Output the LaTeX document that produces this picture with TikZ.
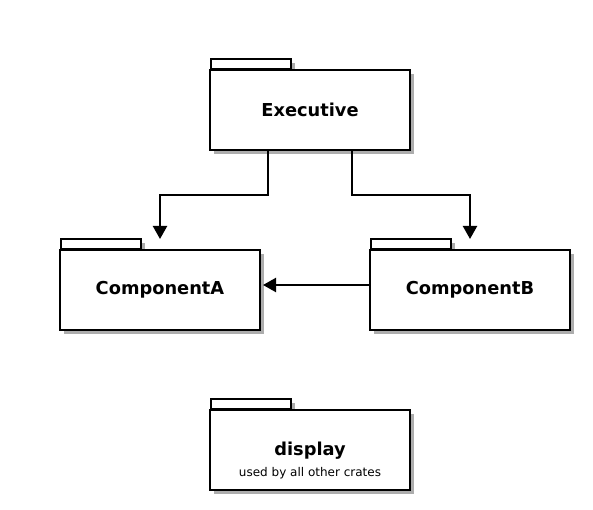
\documentclass[tikz,border=0pt]{standalone}
\usepackage{fontspec}
\setmainfont{DejaVu Sans}
\usetikzlibrary{arrows.meta,shadows}
\tikzset{
  pkgshadow/.style={drop shadow={shadow xshift=4pt,shadow yshift=-4pt,opacity=1,fill=black!32}},
  pkgbody/.style={draw=black,line width=2pt,fill=white,minimum width=200pt,minimum height=80pt,inner sep=0pt,pkgshadow,font=\fontsize{17.8}{21}\selectfont\bfseries},
  pkgtab/.style={draw=black,line width=2pt,fill=white,minimum width=80pt,minimum height=10pt,inner sep=0pt,pkgshadow,anchor=south west},
  arr/.style={line width=2.2pt,-{Triangle[width=14pt,length=13pt]}},
}
\begin{document}
\begin{tikzpicture}[x=1pt,y=-1pt]
\useasboundingbox (0,0) rectangle (593,510);
% Executive
\node[pkgtab] (exectab) at (210,70) {};
\node[pkgbody] (exec) at (310,110) {Executive};
% ComponentA
\node[pkgtab] (atab) at (60,250) {};
\node[pkgbody] (A) at (160,290) {ComponentA};
% ComponentB
\node[pkgtab] (btab) at (370,250) {};
\node[pkgbody] (B) at (470,290) {ComponentB};
% display
\node[pkgtab] (dtab) at (210,410) {};
\node[pkgbody] (disp) at (310,450) {};
\node[anchor=base,inner sep=0pt,font=\fontsize{17.8}{21}\selectfont\bfseries] (dtitle) at (310,455) {display};
\node[anchor=base,inner sep=0pt,font=\fontsize{12}{14}\selectfont] (dnote) at (310,476) {used by all other crates};
% connectors
\draw[arr] ([xshift=-42pt]exec.south) -- ++(0,44) -| ([yshift=10pt]A.north);
\draw[arr] ([xshift=42pt]exec.south) -- ++(0,44) -| ([yshift=10pt]B.north);
\draw[arr] ([yshift=5pt]B.west) -- ([yshift=5pt,xshift=2pt]A.east);
\end{tikzpicture}
\end{document}
